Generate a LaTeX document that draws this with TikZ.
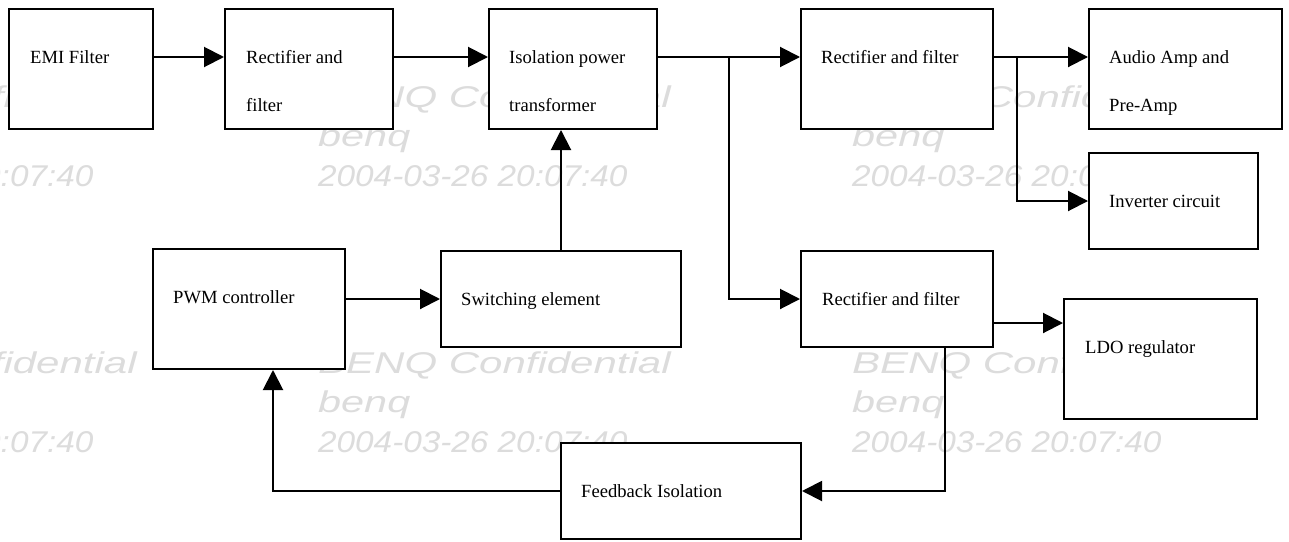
\documentclass[tikz,border=0pt]{standalone}
\usepackage{fontspec}
\setmainfont{Liberation Serif}
\newfontfamily\wmfont{Liberation Sans}
\usetikzlibrary{arrows.meta}
\definecolor{wmgray}{RGB}{220,220,220}
\tikzset{
  box/.style={draw=black, fill=white, line width=2pt, rectangle, inner sep=0pt},
  txt/.style={anchor=base west, inner sep=0pt, font=\fontsize{18.6}{22}\selectfont},
  wm/.style={anchor=base west, inner sep=0pt, text=wmgray, font=\wmfont\itshape\fontsize{30}{30}\selectfont},
  arr/.style={line width=2pt, -{Triangle[length=20pt,width=20pt]}},
  conn/.style={line width=2pt}
}
\newcommand{\wmblock}[2]{%
  \node[wm] at (#1,#2) {\scalebox{1.40}[1]{BENQ Confidential}};
  \node[wm] at (#1,#2+39) {\scalebox{1.38}[1]{benq}};
  \node[wm] at (#1,#2+79) {\scalebox{1.11}[1]{2004-03-26 20:07:40}};
}
\begin{document}
\begin{tikzpicture}[x=1pt,y=-1pt]
\useasboundingbox (0,0) rectangle (1289,541);
\clip (0,0) rectangle (1289,541);
\fill[white] (0,0) rectangle (1289,541);
% watermarks
\wmblock{-216}{107}
\wmblock{318}{107}
\wmblock{852}{107}
\wmblock{-216}{373}
\wmblock{318}{373}
\wmblock{852}{373}
% boxes
\node[box, minimum width=144pt, minimum height=120pt] (emi) at (81,69) {};
\node[box, minimum width=168pt, minimum height=120pt] (rect1) at (309,69) {};
\node[box, minimum width=168pt, minimum height=120pt] (iso) at (573,69) {};
\node[box, minimum width=192pt, minimum height=120pt] (rf1) at (897,69) {};
\node[box, minimum width=193pt, minimum height=120pt] (audio) at (1185.5,69) {};
\node[box, minimum width=169pt, minimum height=96pt] (inv) at (1173.5,201) {};
\node[box, minimum width=192pt, minimum height=120pt] (pwm) at (249,309) {};
\node[box, minimum width=240pt, minimum height=96pt] (sw) at (561,299) {};
\node[box, minimum width=192pt, minimum height=96pt] (rf2) at (897,299) {};
\node[box, minimum width=193pt, minimum height=120pt] (ldo) at (1160.5,359) {};
\node[box, minimum width=240pt, minimum height=96pt] (fb) at (681,491) {};
% texts
\node[txt] (temi) at (30,63) {EMI Filter};
\node[txt] (trect1a) at (246,63) {Rectifier and};
\node[txt] (trect1b) at (246,111) {filter};
\node[txt] (tisoa) at (509,63) {Isolation power};
\node[txt] (tisob) at (509,111) {transformer};
\node[txt] (trf1) at (821,63) {Rectifier and filter};
\node[txt] (taudioa) at (1109,63) {Audio Amp and};
\node[txt] (taudiob) at (1109,111) {Pre-Amp};
\node[txt] (tinv) at (1109,207) {Inverter circuit};
\node[txt] (tpwm) at (173,303) {PWM controller};
\node[txt] (tsw) at (461,305) {Switching element};
\node[txt] (trf2) at (822,305) {Rectifier and filter};
\node[txt] (tldo) at (1085,353) {LDO regulator};
\node[txt] (tfb) at (581,497) {Feedback Isolation};
% junctions
\coordinate (j1) at (729,57);
\coordinate (j2) at (1017,57);
% connectors
\draw[arr] ([yshift=12pt]emi.east) -- ([yshift=12pt]rect1.west);
\draw[arr] ([yshift=12pt]rect1.east) -- ([yshift=12pt]iso.west);
\draw[arr] ([yshift=12pt]iso.east) -- ([yshift=12pt]rf1.west);
\draw[arr] (j1) |- (rf2.west);
\draw[arr] (sw.north) -- (sw.north |- iso.south);
\draw[arr] (pwm.east |- sw.west) -- (sw.west);
\draw[arr] ([yshift=12pt]rf1.east) -- ([yshift=12pt]audio.west);
\draw[arr] (j2) |- (inv.west);
\draw[arr] ([yshift=-24pt]rf2.east) -- ([yshift=-24pt]rf2.east -| ldo.west);
\draw[arr] ([xshift=48pt]rf2.south) |- (fb.east);
\draw[arr] (fb.west) -| ([xshift=24pt]pwm.south);
\end{tikzpicture}
\end{document}
